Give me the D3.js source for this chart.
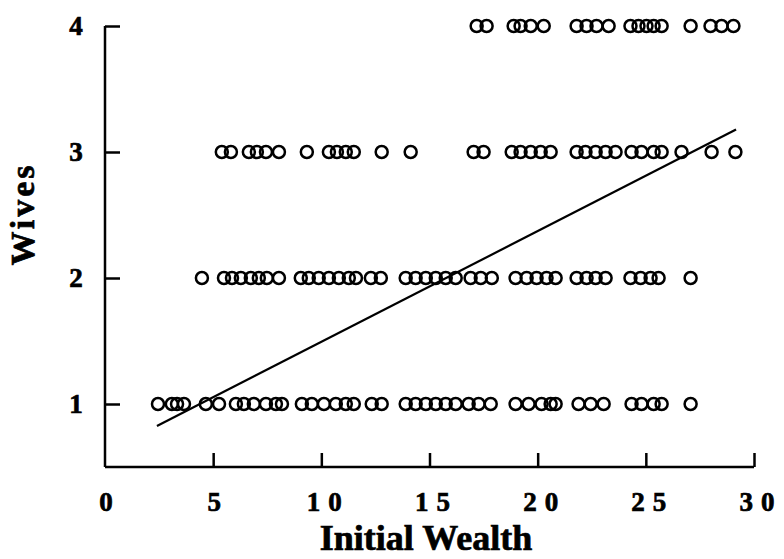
<!DOCTYPE html>
<html>
<head>
<meta charset="utf-8">
<script src="https://cdn.jsdelivr.net/npm/d3@7"></script>
<style>
  html, body { margin: 0; padding: 0; background: #fff; }
  svg { display: block; }
  text { font-family: "Liberation Serif", "DejaVu Serif", serif; font-weight: bold; fill: #000;
         stroke: #000; stroke-width: 0.7px; }
</style>
</head>
<body>
<svg id="chart" width="784" height="559"></svg>
<script>
// Initial wealth of men, grouped by number of wives
const wealthOneWife = [2.45, 3.09, 3.33, 3.65, 4.66, 5.27, 6.05, 6.42, 6.88, 7.44, 7.90, 8.18,
  9.10, 9.56, 10.12, 10.67, 11.13, 11.50, 12.33, 12.79, 13.90, 14.36, 14.83, 15.29, 15.75,
  16.21, 16.81, 17.27, 17.83, 18.98, 19.58, 20.18, 20.60, 20.83, 21.89, 22.45, 23.05, 24.34,
  24.80, 25.36, 25.73, 27.07];
const wealthTwoWives = [4.48, 5.50, 5.87, 6.28, 6.74, 7.11, 7.48, 8.04, 9.05, 9.42, 9.88,
  10.35, 10.81, 11.27, 11.60, 12.29, 12.75, 13.90, 14.36, 14.83, 15.29, 15.75, 16.21, 16.90,
  17.37, 17.88, 18.98, 19.49, 19.95, 20.41, 20.83, 21.80, 22.26, 22.68, 23.14, 24.29, 24.76,
  25.22, 25.59, 27.07];
const wealthThreeWives = [5.40, 5.82, 6.65, 7.02, 7.44, 8.04, 9.33, 10.35, 10.72, 11.13, 11.50,
  12.79, 14.13, 17.04, 17.50, 18.80, 19.21, 19.68, 20.14, 20.60, 21.80, 22.21, 22.68, 23.14,
  23.60, 24.34, 24.80, 25.36, 25.73, 26.65, 28.04, 29.14];
const wealthFourWives = [17.18, 17.64, 18.89, 19.21, 19.68, 20.28, 21.80, 22.26, 22.72, 23.28,
  24.29, 24.66, 25.03, 25.36, 25.73, 27.07, 27.99, 28.50, 29.05];

const wivesCounts = [1, 2, 3, 4];
const xTicks = [0, 5, 10, 15, 20, 25, 30];
const yTicks = [1, 2, 3, 4];

// Least-squares fit shown as a straight line
const fitIntercept = 0.614;
const fitSlope = 0.0879;
const fitRange = [2.4, 29.17];

const points = [wealthOneWife, wealthTwoWives, wealthThreeWives, wealthFourWives]
  .flatMap((arr, i) => arr.map(w => ({ wealth: w, wives: wivesCounts[i] })));

const svg = d3.select("#chart");
const x = d3.scaleLinear().domain([0, 30]).range([105, 754]);
const y = d3.scaleLinear().domain([0.5, 4]).range([467, 26]);

// Axes: ticks point inward, labels drawn separately for the spaced serif look
const xAxis = d3.axisTop(x).tickValues(xTicks.slice(1)).tickSize(14).tickFormat("");
svg.append("g").attr("transform", `translate(0,${y(0.5)})`).call(xAxis)
  .call(g => g.select(".domain").attr("d", `M${x(0)},0H${x(30)}`))
  .call(g => g.selectAll("path, line").attr("stroke", "#000").attr("stroke-width", 2.5));

const yAxis = d3.axisRight(y).tickValues(yTicks).tickSize(15).tickFormat("");
svg.append("g").attr("transform", `translate(${x(0)},0)`).call(yAxis)
  .call(g => g.select(".domain").attr("d", `M0,${y(4)}V${y(0.5)}`))
  .call(g => g.selectAll("path, line").attr("stroke", "#000").attr("stroke-width", 2.5));

svg.append("g").selectAll("text").data(xTicks).join("text")
  .attr("x", d => x(d) + (d >= 10 ? 7 : 1))
  .attr("y", 511)
  .attr("text-anchor", "middle")
  .attr("font-size", 27)
  .attr("letter-spacing", d => d >= 10 ? 8 : 0)
  .text(d => d);

svg.append("g").selectAll("text").data(yTicks).join("text")
  .attr("x", 76)
  .attr("y", d => y(d) + 9)
  .attr("text-anchor", "middle")
  .attr("font-size", 27)
  .text(d => d);

svg.append("text")
  .attr("x", 426).attr("y", 550)
  .attr("text-anchor", "middle")
  .attr("font-size", 36)
  .text("Initial  Wealth");

svg.append("text")
  .attr("transform", "translate(34,214) rotate(-90)")
  .attr("text-anchor", "middle")
  .attr("font-size", 34)
  .attr("letter-spacing", 3)
  .text("Wives");

// Data points
svg.append("g").selectAll("circle").data(points).join("circle")
  .attr("cx", d => x(d.wealth))
  .attr("cy", d => y(d.wives))
  .attr("r", 6)
  .attr("fill", "none")
  .attr("stroke", "#000")
  .attr("stroke-width", 2.5);

// Regression line
svg.append("line")
  .attr("x1", x(fitRange[0])).attr("y1", y(fitIntercept + fitSlope * fitRange[0]))
  .attr("x2", x(fitRange[1])).attr("y2", y(fitIntercept + fitSlope * fitRange[1]))
  .attr("stroke", "#000").attr("stroke-width", 2.2);
</script>
</body>
</html>
